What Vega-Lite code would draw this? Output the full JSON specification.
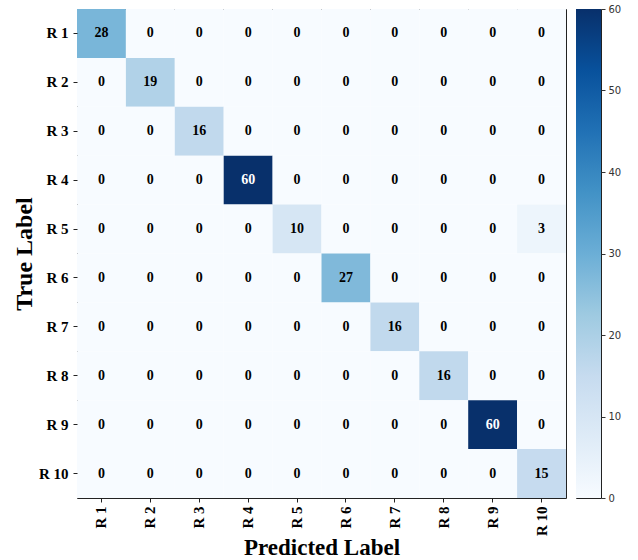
{
  "$schema": "https://vega.github.io/schema/vega-lite/v6.json",
  "autosize": {"type": "pad"},
  "padding": {"left": 11, "top": 3, "right": 5, "bottom": 0},
  "background": "white",
  "bounds": "flush",
  "spacing": 10,
  "hconcat": [
    {
      "width": 489,
      "height": 489,
      "data": {"values": [
        {"a":"R 1","p":"R 1","n":28},{"a":"R 1","p":"R 2","n":0},{"a":"R 1","p":"R 3","n":0},{"a":"R 1","p":"R 4","n":0},{"a":"R 1","p":"R 5","n":0},{"a":"R 1","p":"R 6","n":0},{"a":"R 1","p":"R 7","n":0},{"a":"R 1","p":"R 8","n":0},{"a":"R 1","p":"R 9","n":0},{"a":"R 1","p":"R 10","n":0},
        {"a":"R 2","p":"R 1","n":0},{"a":"R 2","p":"R 2","n":19},{"a":"R 2","p":"R 3","n":0},{"a":"R 2","p":"R 4","n":0},{"a":"R 2","p":"R 5","n":0},{"a":"R 2","p":"R 6","n":0},{"a":"R 2","p":"R 7","n":0},{"a":"R 2","p":"R 8","n":0},{"a":"R 2","p":"R 9","n":0},{"a":"R 2","p":"R 10","n":0},
        {"a":"R 3","p":"R 1","n":0},{"a":"R 3","p":"R 2","n":0},{"a":"R 3","p":"R 3","n":16},{"a":"R 3","p":"R 4","n":0},{"a":"R 3","p":"R 5","n":0},{"a":"R 3","p":"R 6","n":0},{"a":"R 3","p":"R 7","n":0},{"a":"R 3","p":"R 8","n":0},{"a":"R 3","p":"R 9","n":0},{"a":"R 3","p":"R 10","n":0},
        {"a":"R 4","p":"R 1","n":0},{"a":"R 4","p":"R 2","n":0},{"a":"R 4","p":"R 3","n":0},{"a":"R 4","p":"R 4","n":60},{"a":"R 4","p":"R 5","n":0},{"a":"R 4","p":"R 6","n":0},{"a":"R 4","p":"R 7","n":0},{"a":"R 4","p":"R 8","n":0},{"a":"R 4","p":"R 9","n":0},{"a":"R 4","p":"R 10","n":0},
        {"a":"R 5","p":"R 1","n":0},{"a":"R 5","p":"R 2","n":0},{"a":"R 5","p":"R 3","n":0},{"a":"R 5","p":"R 4","n":0},{"a":"R 5","p":"R 5","n":10},{"a":"R 5","p":"R 6","n":0},{"a":"R 5","p":"R 7","n":0},{"a":"R 5","p":"R 8","n":0},{"a":"R 5","p":"R 9","n":0},{"a":"R 5","p":"R 10","n":3},
        {"a":"R 6","p":"R 1","n":0},{"a":"R 6","p":"R 2","n":0},{"a":"R 6","p":"R 3","n":0},{"a":"R 6","p":"R 4","n":0},{"a":"R 6","p":"R 5","n":0},{"a":"R 6","p":"R 6","n":27},{"a":"R 6","p":"R 7","n":0},{"a":"R 6","p":"R 8","n":0},{"a":"R 6","p":"R 9","n":0},{"a":"R 6","p":"R 10","n":0},
        {"a":"R 7","p":"R 1","n":0},{"a":"R 7","p":"R 2","n":0},{"a":"R 7","p":"R 3","n":0},{"a":"R 7","p":"R 4","n":0},{"a":"R 7","p":"R 5","n":0},{"a":"R 7","p":"R 6","n":0},{"a":"R 7","p":"R 7","n":16},{"a":"R 7","p":"R 8","n":0},{"a":"R 7","p":"R 9","n":0},{"a":"R 7","p":"R 10","n":0},
        {"a":"R 8","p":"R 1","n":0},{"a":"R 8","p":"R 2","n":0},{"a":"R 8","p":"R 3","n":0},{"a":"R 8","p":"R 4","n":0},{"a":"R 8","p":"R 5","n":0},{"a":"R 8","p":"R 6","n":0},{"a":"R 8","p":"R 7","n":0},{"a":"R 8","p":"R 8","n":16},{"a":"R 8","p":"R 9","n":0},{"a":"R 8","p":"R 10","n":0},
        {"a":"R 9","p":"R 1","n":0},{"a":"R 9","p":"R 2","n":0},{"a":"R 9","p":"R 3","n":0},{"a":"R 9","p":"R 4","n":0},{"a":"R 9","p":"R 5","n":0},{"a":"R 9","p":"R 6","n":0},{"a":"R 9","p":"R 7","n":0},{"a":"R 9","p":"R 8","n":0},{"a":"R 9","p":"R 9","n":60},{"a":"R 9","p":"R 10","n":0},
        {"a":"R 10","p":"R 1","n":0},{"a":"R 10","p":"R 2","n":0},{"a":"R 10","p":"R 3","n":0},{"a":"R 10","p":"R 4","n":0},{"a":"R 10","p":"R 5","n":0},{"a":"R 10","p":"R 6","n":0},{"a":"R 10","p":"R 7","n":0},{"a":"R 10","p":"R 8","n":0},{"a":"R 10","p":"R 9","n":0},{"a":"R 10","p":"R 10","n":15}
      ]},
      "encoding": {
        "x": {
          "field": "p", "type": "ordinal",
          "sort": ["R 1","R 2","R 3","R 4","R 5","R 6","R 7","R 8","R 9","R 10"],
          "scale": {"paddingInner": 0, "paddingOuter": 0},
          "axis": {
            "title": "Predicted Label", "labelAngle": -90, "domain": false,
            "labelFont": "Liberation Serif", "labelFontWeight": "bold", "labelFontSize": 15, "labelColor": "black",
            "tickColor": "#222", "tickSize": 4, "labelPadding": 4,
            "titleFont": "Liberation Serif", "titleFontWeight": "bold", "titleFontSize": 23, "titleColor": "black", "titlePadding": 1
          }
        },
        "y": {
          "field": "a", "type": "ordinal",
          "sort": ["R 1","R 2","R 3","R 4","R 5","R 6","R 7","R 8","R 9","R 10"],
          "scale": {"paddingInner": 0, "paddingOuter": 0},
          "axis": {
            "title": "True Label", "labelAngle": 0, "domain": false,
            "labelFont": "Liberation Serif", "labelFontWeight": "bold", "labelFontSize": 15, "labelColor": "black",
            "tickColor": "#222", "tickSize": 4, "labelPadding": 5,
            "titleFont": "Liberation Serif", "titleFontWeight": "bold", "titleFontSize": 24, "titleColor": "black", "titlePadding": 2
          }
        }
      },
      "layer": [
        {
          "mark": {"type": "rect"},
          "encoding": {
            "color": {
              "field": "n", "type": "quantitative",
              "scale": {
                "domain": [0, 7.5, 15, 22.5, 30, 37.5, 45, 52.5, 60],
                "range": ["#f7fbff", "#deebf7", "#c6dbef", "#9ecae1", "#6baed6", "#4292c6", "#2171b5", "#08519c", "#08306b"]
              },
              "legend": null
            }
          }
        },
        {
          "mark": {"type": "text", "font": "Liberation Serif", "fontWeight": "bold", "fontSize": 14},
          "encoding": {
            "text": {"field": "n", "type": "quantitative"},
            "color": {"condition": {"test": "datum.n > 45", "value": "white"}, "value": "black"}
          }
        }
      ]
    },
    {
      "width": 25,
      "height": 489,
      "data": {"values": [{"lo": 0, "hi": 60}]},
      "mark": {
        "type": "rect",
        "fill": {
          "gradient": "linear", "x1": 0, "y1": 1, "x2": 0, "y2": 0,
          "stops": [
            {"offset": 0, "color": "#f7fbff"},
            {"offset": 0.125, "color": "#deebf7"},
            {"offset": 0.25, "color": "#c6dbef"},
            {"offset": 0.375, "color": "#9ecae1"},
            {"offset": 0.5, "color": "#6baed6"},
            {"offset": 0.625, "color": "#4292c6"},
            {"offset": 0.75, "color": "#2171b5"},
            {"offset": 0.875, "color": "#08519c"},
            {"offset": 1, "color": "#08306b"}
          ]
        }
      },
      "encoding": {
        "x": {"value": 0},
        "x2": {"value": "width"},
        "y": {
          "field": "lo", "type": "quantitative",
          "scale": {"domain": [0, 60], "nice": false, "zero": false},
          "axis": {
            "orient": "right", "title": null, "grid": false, "domain": false,
            "values": [0, 10, 20, 30, 40, 50, 60],
            "tickSize": 4, "tickColor": "#333", "labelPadding": 3,
            "labelFont": "DejaVu Sans", "labelFontSize": 10, "labelColor": "#333", "labelFlush": false
          }
        },
        "y2": {"field": "hi"}
      }
    }
  ],
  "config": {
    "view": {"stroke": "#222", "strokeWidth": 1}
  }
}
